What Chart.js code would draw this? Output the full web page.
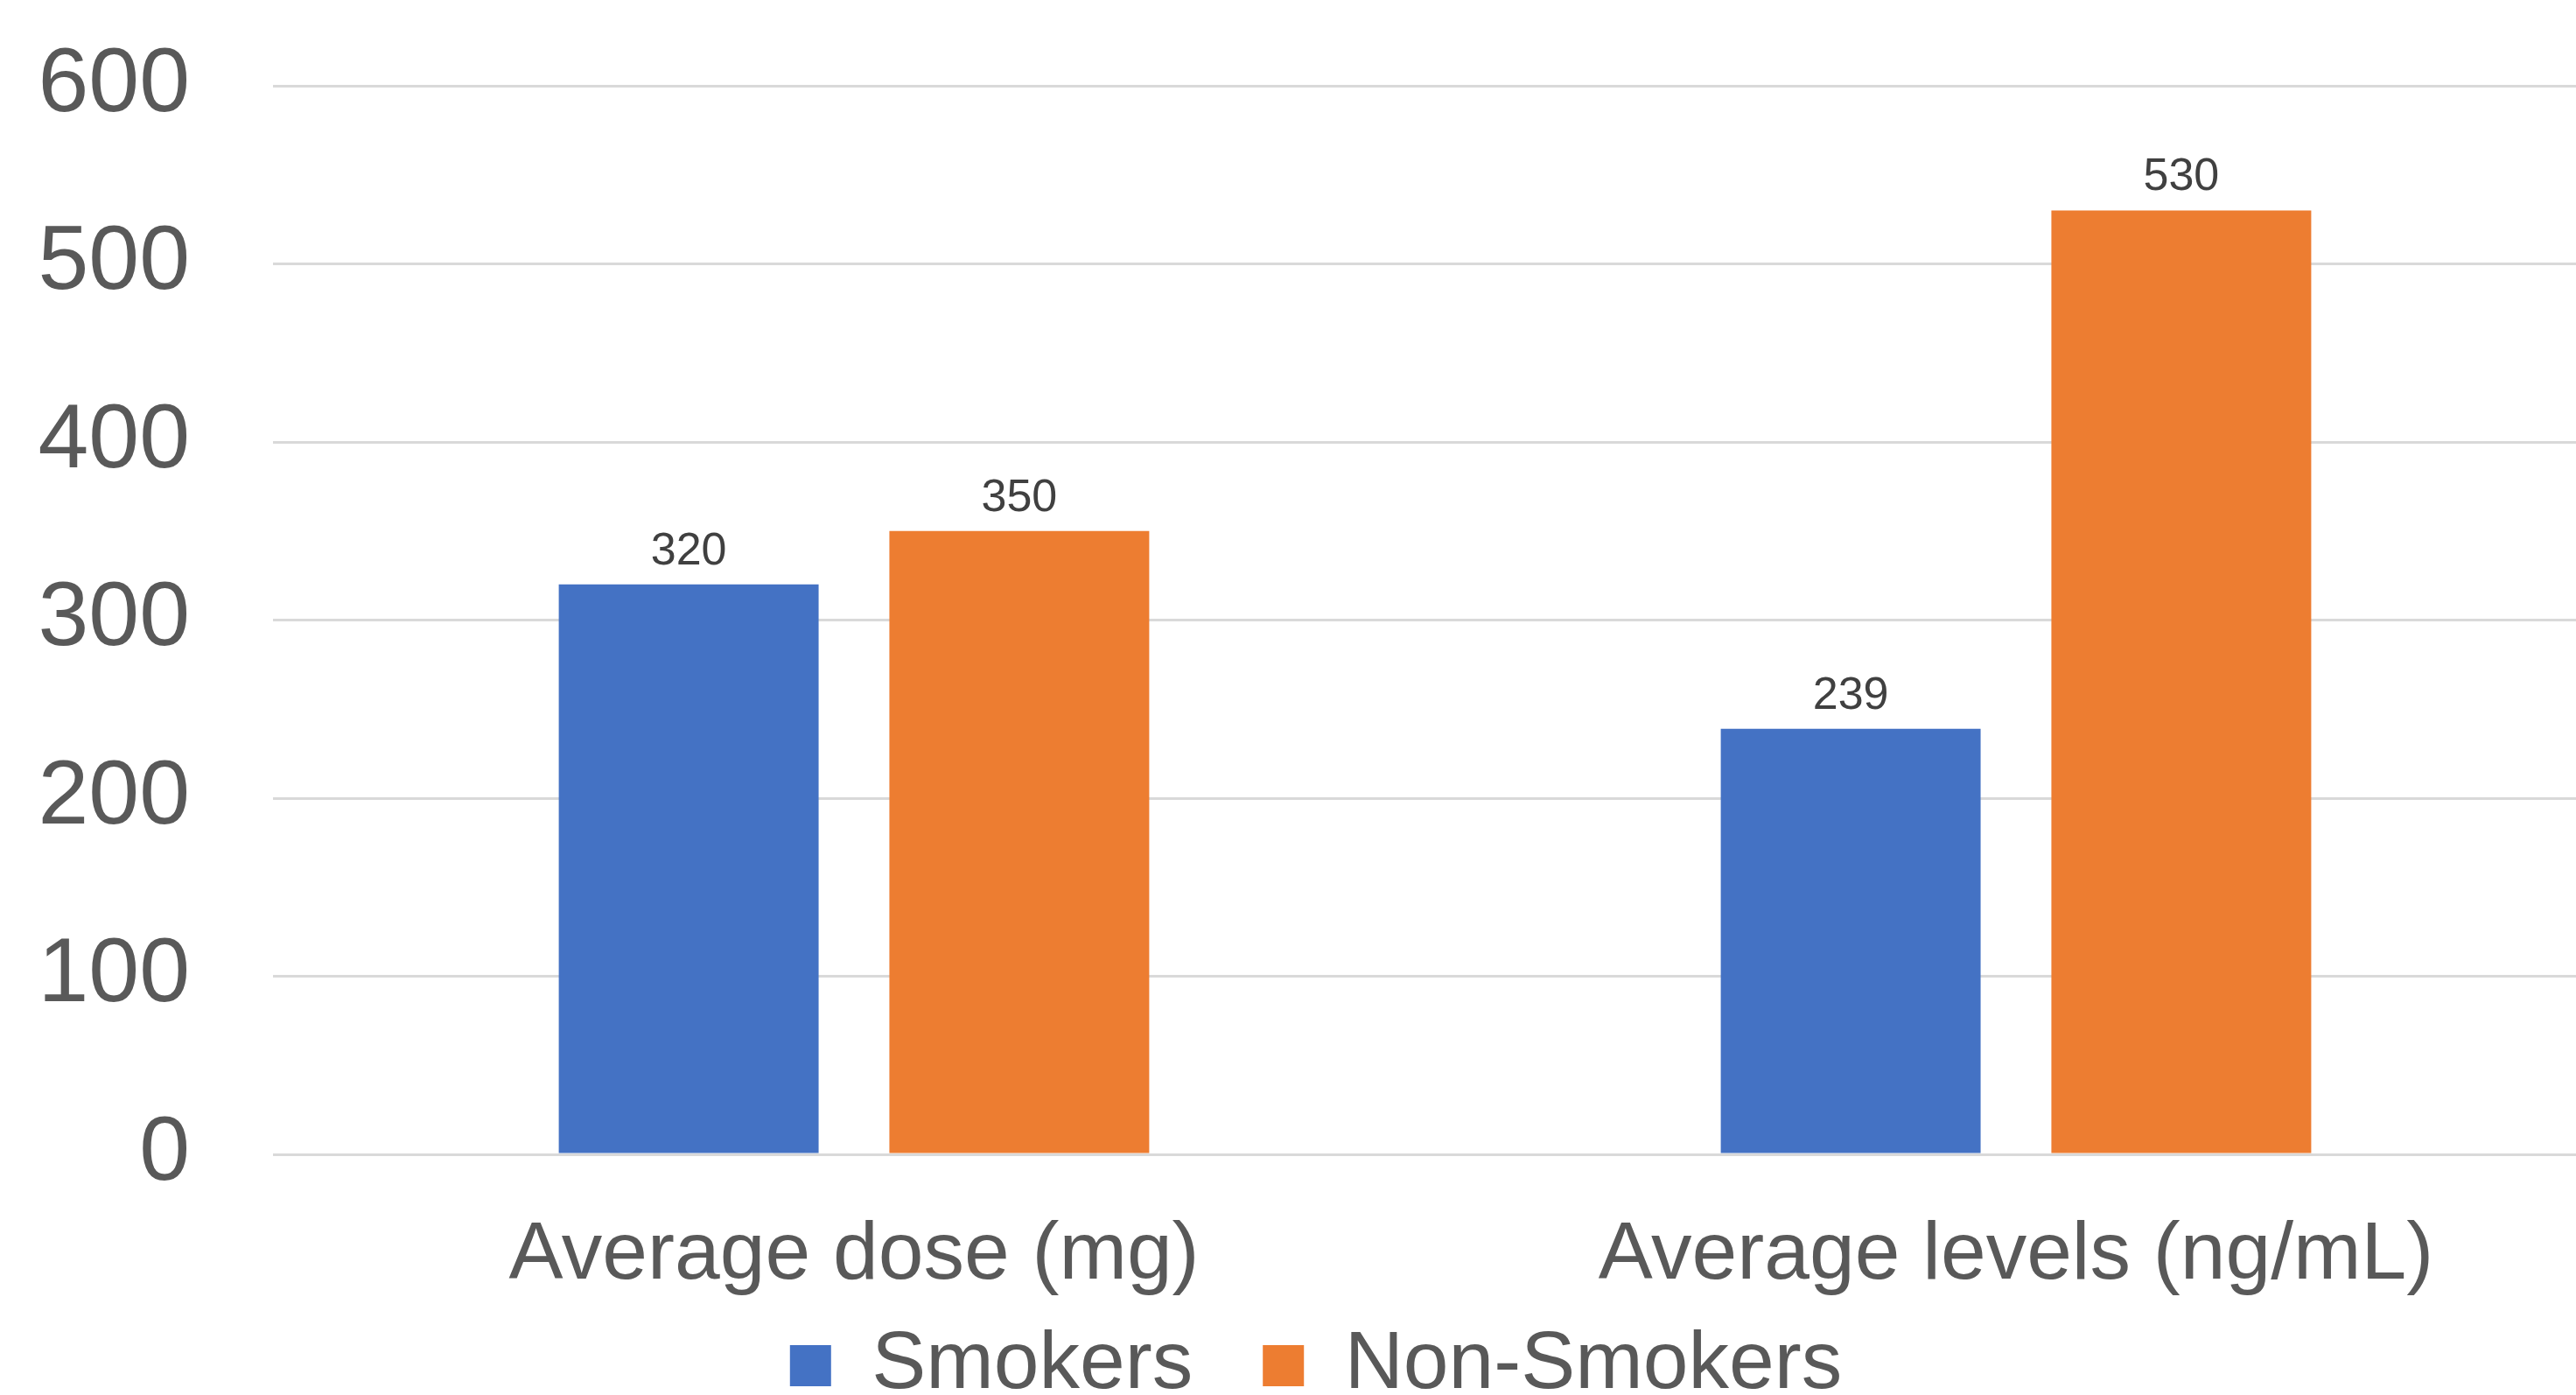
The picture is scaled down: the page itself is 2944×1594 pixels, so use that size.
<!DOCTYPE html>
<html>
<head>
<meta charset="utf-8">
<script src="https://cdn.jsdelivr.net/npm/chart.js@4/dist/chart.umd.min.js"></script>
<style>
  html, body { margin: 0; padding: 0; background: #fff; overflow: hidden; }
  #wrap { width: 2968px; height: 1594px; position: relative; }
</style>
</head>
<body>
<div id="wrap"><canvas id="chart"></canvas></div>
<script>
const categories = ['Average dose (mg)', 'Average levels (ng/mL)'];
const smokers = [320, 239];
const nonSmokers = [350, 530];
const yTicks = [0, 100, 200, 300, 400, 500, 600];

const FONT = '"Liberation Sans", Arial, sans-serif';

// numbers above the bars
const valueLabels = {
    id: 'valueLabels',
    afterDatasetsDraw(chart) {
        const ctx = chart.ctx;
        ctx.save();
        ctx.font = '52px ' + FONT;
        ctx.fillStyle = '#404040';
        ctx.textAlign = 'center';
        ctx.textBaseline = 'alphabetic';
        chart.data.datasets.forEach((ds, i) => {
            chart.getDatasetMeta(i).data.forEach((bar, j) => {
                ctx.fillText(ds.data[j], bar.x, bar.y - 23);
            });
        });
        ctx.restore();
    }
};

const ctx = document.getElementById('chart').getContext('2d');
const chart = new Chart(ctx, {
    type: 'bar',
    data: {
        labels: categories,
        datasets: [
            { label: 'Smokers', data: smokers, backgroundColor: '#4472c4' },
            { label: 'Non-Smokers', data: nonSmokers, backgroundColor: '#ed7d31' }
        ]
    },
    options: {
        responsive: true,
        maintainAspectRatio: false,
        animation: false,
        devicePixelRatio: 1,
        categoryPercentage: 0.569,
        barPercentage: 0.786,
        layout: { padding: { top: 0, left: 40, right: 0, bottom: -23 } },
        plugins: {
            legend: {
                position: 'bottom',
                labels: {
                    boxWidth: 47,
                    boxHeight: 47,
                    padding: 80,
                    color: '#595959',
                    font: { size: 93, family: FONT }
                }
            },
            tooltip: { enabled: false }
        },
        scales: {
            x: {
                grid: { display: false },
                border: { display: false },
                afterFit(scale) {
                    scale.height = 115;
                    // let the category names run past the short axis box
                    scale._computeLabelArea = () => undefined;
                },
                ticks: {
                    color: '#595959',
                    padding: 53,
                    font: { size: 93, family: FONT }
                }
            },
            y: {
                min: 0,
                max: 600,
                afterBuildTicks(scale) {
                    scale.ticks = yTicks.map(v => ({ value: v }));
                },
                afterFit(scale) {
                    scale.width = 272;
                    scale.paddingTop = 98;
                    scale.paddingBottom = 0;
                },
                grid: { color: '#d9d9d9', lineWidth: 3, drawTicks: false },
                border: { display: false },
                ticks: {
                    color: '#595959',
                    padding: 95,
                    font: { size: 104, family: FONT }
                }
            }
        }
    },
    plugins: [valueLabels]
});
</script>
</body>
</html>
